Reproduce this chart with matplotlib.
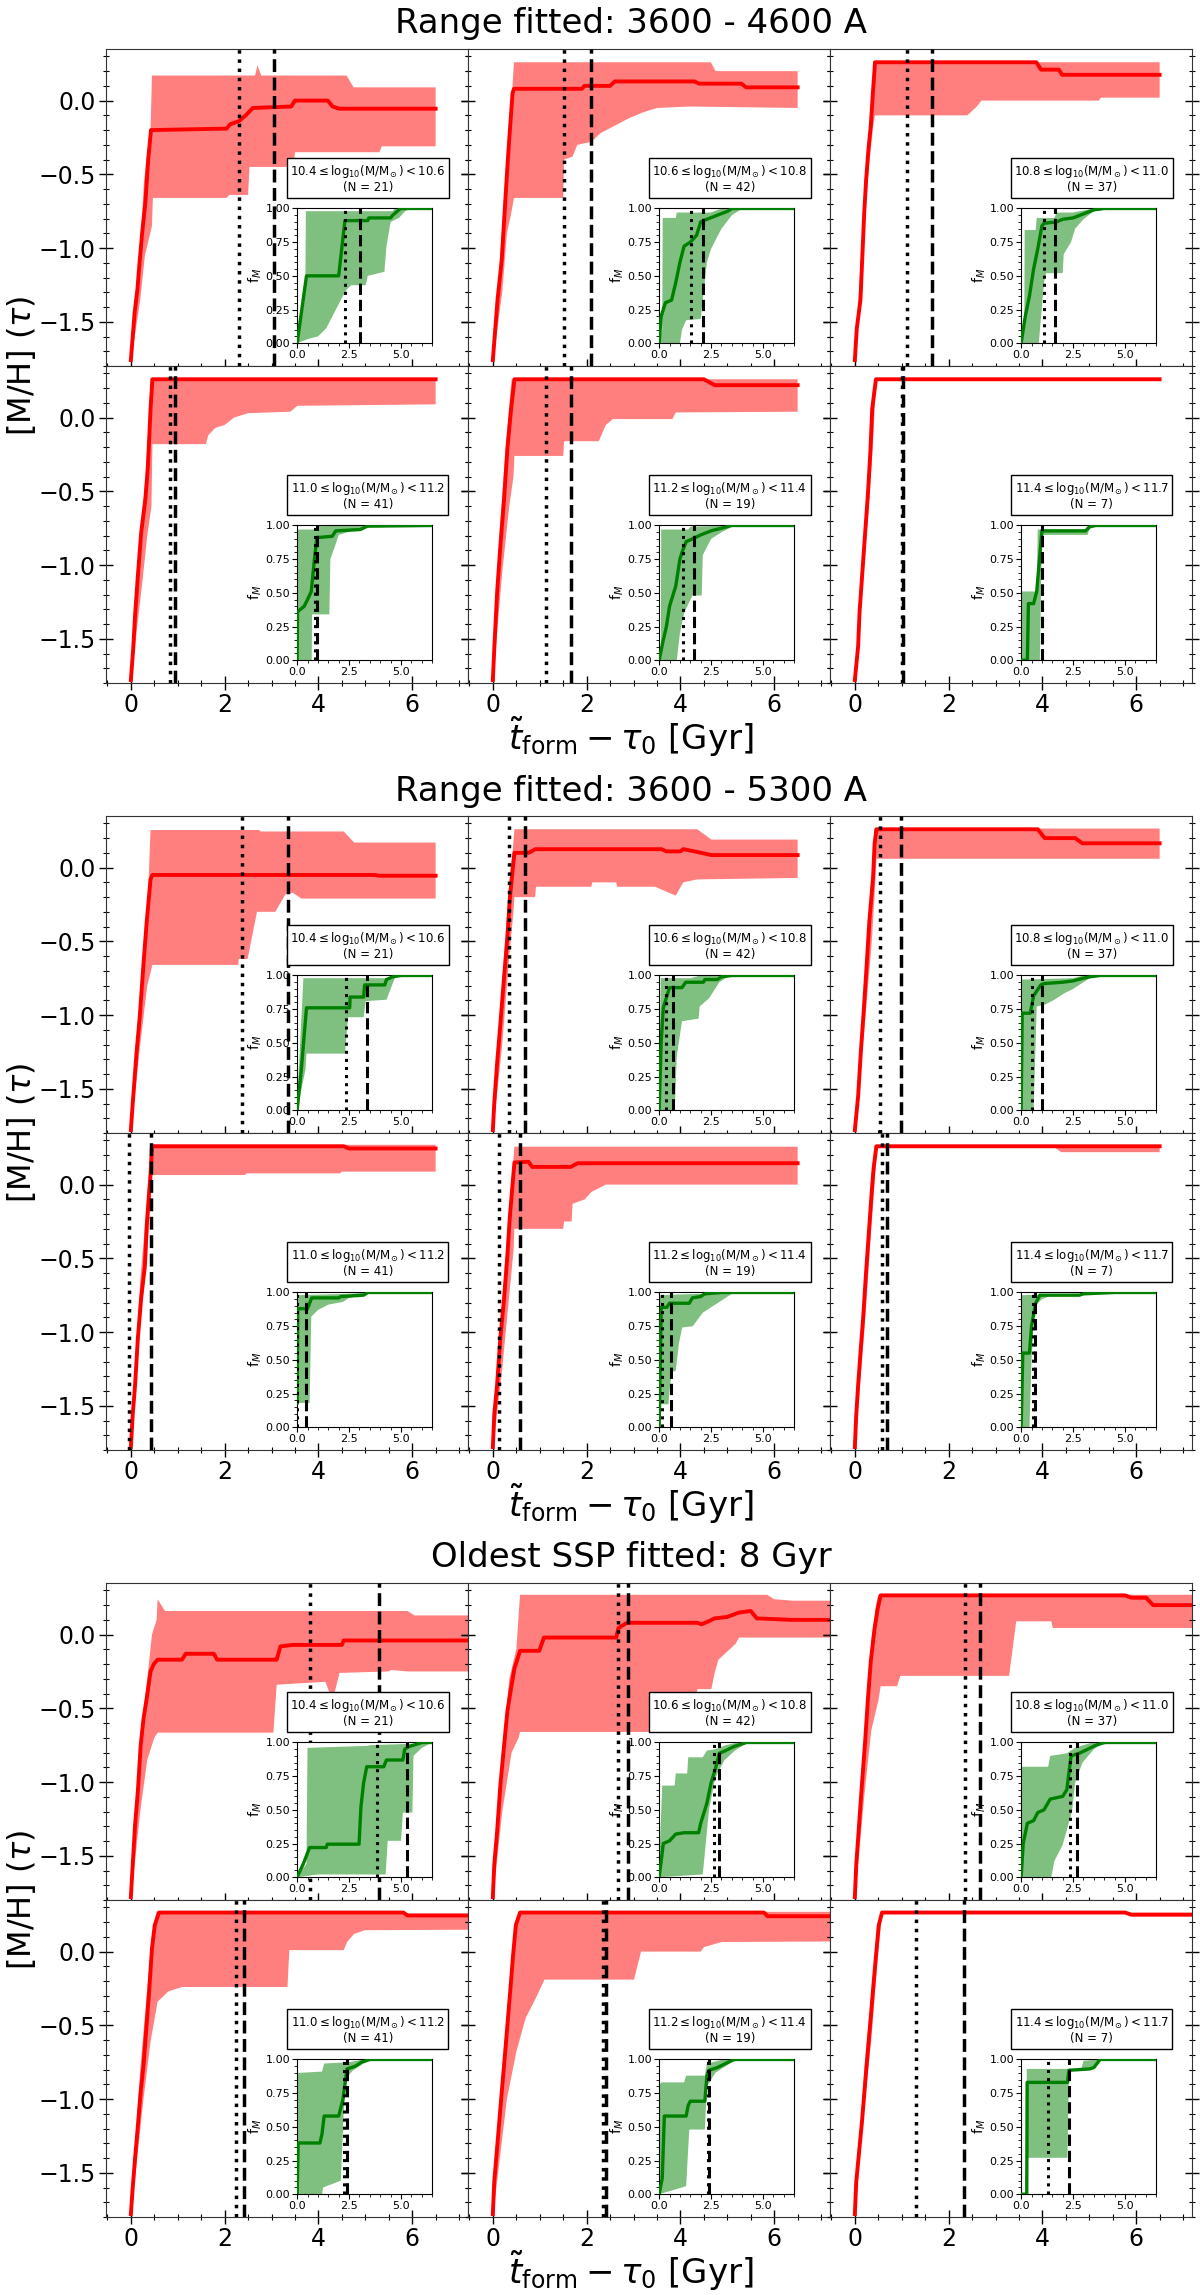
import matplotlib
matplotlib.use("Agg")
import matplotlib.pyplot as plt
from matplotlib.ticker import MultipleLocator

# ---------------------------------------------------------------------------
# data: (x, y) vertices, x = t_form - tau0 [Gyr]
# MED = median [M/H], HI/LO = band edges; F* = inset cumulative mass fraction
# V = (dotted, dashed) vertical markers
# ---------------------------------------------------------------------------
# --- Range fitted: 3600 - 4600 A
A1_MED = [(0, -1.76), (0.04, -1.6), (0.08, -1.44), (0.14, -1.28), (0.18, -1.12), (0.24, -0.9),
          (0.31, -0.69), (0.37, -0.4), (0.43, -0.2), (2.04, -0.19), (2.12, -0.16), (2.3, -0.14),
          (2.45, -0.1), (2.6, -0.05), (3.42, -0.04), (3.5, 0.0), (4.2, 0.0), (4.3, -0.04),
          (4.45, -0.055), (6.5, -0.055)]
A1_HI = [(0, -1.76), (0.2, -1.0), (0.28, -0.55), (0.35, -0.35), (0.42, -0.2), (0.45, 0.17),
         (2.65, 0.17), (2.7, 0.24), (2.78, 0.17), (4.6, 0.17), (4.75, 0.09), (6.5, 0.09)]
A1_LO = [(0, -1.78), (0.2, -1.35), (0.3, -1.05), (0.45, -0.85), (0.47, -0.66), (2.04, -0.66),
         (2.1, -0.64), (2.5, -0.64), (2.53, -0.45), (3.47, -0.45), (3.5, -0.35), (5.3, -0.35),
         (5.35, -0.31), (6.5, -0.31)]
A1_V = (2.30, 3.05)
A1_FMED = [(0, 0), (0.45, 0.5), (2.0, 0.5), (2.3, 0.91), (3.4, 0.91), (3.45, 0.93), (4.5, 0.93),
           (4.6, 0.95), (4.9, 0.99), (5.0, 1.0), (6.5, 1.0)]
A1_FHI = [(0, 0.03), (0.4, 0.5), (0.42, 0.98), (4.6, 0.98), (4.7, 1.0), (6.5, 1.0)]
A1_FLO = [(0, 0), (0.5, 0.03), (1.0, 0.05), (1.4, 0.11), (2.2, 0.35), (2.4, 0.4), (2.6, 0.43),
          (3.3, 0.43), (3.4, 0.5), (4.2, 0.53), (4.3, 0.72), (4.5, 0.9), (4.9, 0.93), (5.2, 0.98),
          (5.5, 1.0), (6.5, 1.0)]

A2_MED = [(0, -1.76), (0.1, -1.35), (0.19, -1.08), (0.25, -0.76), (0.31, -0.45), (0.35, -0.26),
          (0.42, 0.05), (0.45, 0.08), (1.9, 0.08), (1.95, 0.1), (2.5, 0.1), (2.6, 0.13), (4.3, 0.13),
          (4.4, 0.115), (5.3, 0.115), (5.4, 0.09), (6.5, 0.09)]
A2_HI = [(0, -1.76), (0.2, -0.85), (0.3, -0.35), (0.4, 0.0), (0.45, 0.26), (4.65, 0.26),
         (4.75, 0.2), (6.5, 0.2)]
A2_LO = [(0, -1.78), (0.2, -1.3), (0.3, -0.9), (0.4, -0.75), (0.45, -0.66), (1.5, -0.66),
         (1.52, -0.4), (1.7, -0.38), (1.8, -0.3), (2.1, -0.28), (2.3, -0.22), (2.6, -0.17),
         (2.9, -0.12), (3.2, -0.08), (3.5, -0.05), (4.2, -0.04), (6.5, -0.05)]
A2_V = (1.52, 2.09)
A2_FMED = [(0, 0), (0.1, 0.2), (0.3, 0.3), (0.6, 0.32), (0.8, 0.45), (1.0, 0.6), (1.2, 0.72),
           (1.5, 0.75), (1.8, 0.8), (2.0, 0.9), (2.3, 0.92), (2.8, 0.95), (3.3, 0.98), (3.5, 1.0),
           (6.5, 1.0)]
A2_FHI = [(0, 0), (0.15, 0.1), (0.17, 0.93), (0.8, 0.93), (0.85, 0.97), (2.5, 0.97), (3.0, 1.0),
          (6.5, 1.0)]
A2_FLO = [(0, 0), (1.0, 0), (1.1, 0.1), (1.3, 0.17), (2.0, 0.18), (2.3, 0.6), (2.5, 0.7),
          (3.0, 0.85), (3.5, 0.95), (4.0, 1.0), (6.5, 1.0)]

A3_MED = [(0, -1.76), (0.04, -1.55), (0.12, -1.35), (0.2, -0.76), (0.24, -0.54), (0.29, -0.33),
          (0.34, -0.17), (0.38, 0.03), (0.43, 0.26), (3.87, 0.26), (3.97, 0.21), (4.35, 0.21),
          (4.42, 0.175), (6.5, 0.175)]
A3_HI = [(0, -1.76), (0.2, -0.7), (0.3, -0.25), (0.38, 0.1), (0.43, 0.26), (6.5, 0.26)]
A3_LO = [(0, -1.78), (0.2, -0.85), (0.3, -0.45), (0.38, -0.2), (0.43, -0.1), (2.4, -0.1),
         (2.6, -0.04), (2.7, 0.0), (5.2, 0.0), (5.25, 0.02), (6.5, 0.02)]
A3_V = (1.12, 1.65)
A3_FMED = [(0, 0), (0.2, 0.2), (0.4, 0.35), (0.6, 0.55), (0.8, 0.7), (1.0, 0.87), (1.1, 0.89),
           (1.7, 0.9), (2.0, 0.92), (2.5, 0.93), (3.0, 0.96), (3.5, 0.99), (4.0, 1.0), (6.5, 1.0)]
A3_FHI = [(0, 0), (0.15, 0.1), (0.17, 0.84), (0.7, 0.84), (0.75, 0.93), (1.6, 0.93), (1.7, 0.97),
          (2.5, 0.97), (3.5, 1.0), (6.5, 1.0)]
A3_FLO = [(0, 0), (0.85, 0), (1.1, 0.45), (1.2, 0.52), (2.0, 0.52), (2.05, 0.66), (2.4, 0.75),
          (2.6, 0.85), (3.0, 0.92), (3.5, 0.98), (4.3, 1.0), (6.5, 1.0)]

A4_MED = [(0, -1.78), (0.05, -1.57), (0.09, -1.34), (0.15, -1.07), (0.22, -0.78), (0.31, -0.55),
          (0.36, -0.35), (0.39, -0.15), (0.42, 0.06), (0.46, 0.26), (6.5, 0.26)]
A4_HI = [(0, -1.78), (0.15, -1.0), (0.3, -0.45), (0.38, -0.05), (0.42, 0.26), (6.5, 0.26)]
A4_LO = [(0, -1.8), (0.25, -1.1), (0.35, -0.8), (0.44, -0.6), (0.46, -0.18), (1.6, -0.18),
         (1.65, -0.12), (1.8, -0.07), (2.0, -0.05), (2.2, 0.0), (2.5, 0.03), (3.4, 0.04),
         (3.55, 0.08), (6.5, 0.09)]
A4_V = (0.84, 0.94)
A4_FMED = [(0, 0), (0.02, 0.36), (0.34, 0.4), (0.5, 0.45), (0.68, 0.51), (0.84, 0.76), (0.95, 0.91),
           (1.69, 0.92), (1.86, 0.96), (3.04, 0.97), (3.38, 0.995), (6.5, 1.0)]
A4_FHI = [(0, 0.97), (0.9, 0.97), (0.95, 0.995), (3.4, 1.0), (6.5, 1.0)]
A4_FLO = [(0, 0), (0.7, 0), (0.72, 0.34), (1.55, 0.34), (1.6, 0.75), (1.85, 0.86), (2.0, 0.93),
          (3.4, 0.995), (6.5, 1.0)]

A5_MED = [(0, -1.78), (0.03, -1.57), (0.09, -1.19), (0.16, -0.87), (0.24, -0.55), (0.31, -0.21),
          (0.39, 0.06), (0.46, 0.26), (4.5, 0.26), (4.73, 0.22), (6.5, 0.22)]
A5_HI = [(0, -1.78), (0.15, -0.75), (0.3, -0.1), (0.4, 0.26), (6.5, 0.26)]
A5_LO = [(0, -1.8), (0.2, -1.05), (0.35, -0.6), (0.44, -0.4), (0.46, -0.26), (1.5, -0.26),
         (1.52, -0.16), (2.26, -0.16), (2.34, -0.1), (2.41, -0.05), (2.56, -0.01), (3.83, -0.01),
         (3.9, 0.035), (6.5, 0.04)]
A5_V = (1.14, 1.66)
A5_FMED = [(0, 0), (0.2, 0.15), (0.35, 0.25), (0.5, 0.4), (0.8, 0.55), (1.0, 0.75), (1.1, 0.8),
           (1.3, 0.88), (1.6, 0.9), (2.0, 0.93), (2.5, 0.96), (3.0, 0.98), (3.5, 1.0), (6.5, 1.0)]
A5_FHI = [(0, 0), (0.08, 0.1), (0.1, 0.97), (1.4, 0.97), (1.5, 0.99), (3.3, 1.0), (6.5, 1.0)]
A5_FLO = [(0, 0), (0.85, 0), (1.0, 0.2), (1.2, 0.35), (1.6, 0.48), (2.05, 0.48), (2.1, 0.78),
          (2.5, 0.9), (3.0, 0.95), (3.5, 0.99), (4.0, 1.0), (6.5, 1.0)]

A6_MED = [(0, -1.78), (0.07, -1.55), (0.1, -1.32), (0.16, -1.05), (0.22, -0.78), (0.28, -0.51),
          (0.33, -0.24), (0.37, 0.06), (0.45, 0.26), (6.5, 0.26)]
A6_HI = [(0, -1.78), (0.15, -1.0), (0.3, -0.3), (0.37, 0.15), (0.42, 0.26), (6.5, 0.26)]
A6_LO = [(0, -1.8), (0.2, -1.0), (0.3, -0.6), (0.4, -0.1), (0.45, 0.25), (6.5, 0.25)]
A6_V = (1.01, 1.02)
A6_FMED = [(0, 0), (0.3, 0), (0.35, 0.42), (0.6, 0.42), (0.75, 0.51), (1.0, 0.96), (3.1, 0.96),
           (3.3, 0.99), (3.6, 1.0), (6.5, 1.0)]
A6_FHI = [(0, 0.51), (0.75, 0.51), (0.8, 0.97), (3.1, 0.97), (3.2, 1.0), (6.5, 1.0)]
A6_FLO = [(0, 0), (0.9, 0), (1.0, 0.93), (3.2, 0.93), (3.3, 0.98), (3.6, 1.0), (6.5, 1.0)]

# --- Range fitted: 3600 - 5300 A
B1_MED = [(0, -1.78), (0.04, -1.6), (0.12, -1.26), (0.19, -1.01), (0.27, -0.65), (0.34, -0.36),
          (0.42, -0.08), (0.46, -0.05), (5.2, -0.05), (5.3, -0.055), (6.5, -0.055)]
B1_HI = [(0, -1.78), (0.2, -0.9), (0.3, -0.5), (0.38, -0.1), (0.4, 0.1), (0.42, 0.255),
         (2.74, 0.255), (2.76, 0.245), (4.54, 0.245), (4.76, 0.17), (6.5, 0.17)]
B1_LO = [(0, -1.8), (0.2, -1.2), (0.35, -0.8), (0.46, -0.66), (2.29, -0.66), (2.3, -0.62),
         (2.49, -0.62), (2.69, -0.3), (3.08, -0.3), (3.3, -0.18), (3.45, -0.17), (3.64, -0.21),
         (6.5, -0.21)]
B1_V = (2.36, 3.35)
B1_FMED = [(0, 0), (0.2, 0.3), (0.45, 0.76), (2.53, 0.76), (2.55, 0.84), (3.2, 0.84), (3.25, 0.93),
           (4.22, 0.93), (4.3, 0.97), (4.6, 0.99), (5.0, 1.0), (6.5, 1.0)]
B1_FHI = [(0, 0.05), (0.3, 0.98), (4.5, 0.98), (4.7, 1.0), (6.5, 1.0)]
B1_FLO = [(0, 0), (0.4, 0.3), (0.45, 0.42), (2.3, 0.42), (2.45, 0.69), (3.2, 0.69), (3.3, 0.81),
          (4.3, 0.82), (4.7, 0.98), (5.0, 1.0), (6.5, 1.0)]

B2_MED = [(0, -1.78), (0.03, -1.6), (0.09, -1.33), (0.16, -1.06), (0.24, -0.74), (0.31, -0.47),
          (0.36, -0.22), (0.42, -0.02), (0.46, 0.1), (0.76, 0.1), (0.91, 0.125), (3.6, 0.125),
          (3.7, 0.11), (4.0, 0.11), (4.06, 0.125), (4.3, 0.11), (4.66, 0.085), (6.5, 0.085)]
B2_HI = [(0, -1.78), (0.2, -0.8), (0.35, -0.1), (0.42, 0.1), (0.46, 0.26), (4.36, 0.26),
         (4.66, 0.19), (6.5, 0.19)]
B2_LO = [(0, -1.8), (0.2, -1.2), (0.35, -0.6), (0.44, -0.3), (0.46, -0.2), (0.9, -0.2),
         (0.92, -0.13), (2.1, -0.13), (2.12, -0.1), (2.63, -0.1), (2.65, -0.13), (3.46, -0.13),
         (3.9, -0.19), (4.06, -0.1), (4.36, -0.08), (6.5, -0.07)]
B2_V = (0.35, 0.68)
B2_FMED = [(0, 0), (0.1, 0.51), (0.2, 0.76), (0.3, 0.81), (0.5, 0.91), (1.1, 0.91), (1.28, 0.95),
           (2.13, 0.95), (2.2, 0.97), (2.8, 0.97), (3.0, 0.99), (3.5, 1.0), (6.5, 1.0)]
B2_FHI = [(0, 0.1), (0.08, 0.98), (1.5, 0.98), (2.0, 1.0), (6.5, 1.0)]
B2_FLO = [(0, 0), (0.75, 0), (0.85, 0.4), (1.1, 0.66), (1.9, 0.68), (1.95, 0.77), (2.4, 0.83),
          (2.9, 0.95), (3.3, 0.99), (3.8, 1.0), (6.5, 1.0)]

B3_MED = [(0, -1.78), (0.07, -1.55), (0.13, -1.24), (0.19, -0.97), (0.25, -0.67), (0.31, -0.36),
          (0.39, -0.06), (0.42, 0.16), (0.46, 0.26), (3.9, 0.26), (4.05, 0.2), (4.7, 0.2),
          (4.85, 0.165), (6.5, 0.165)]
B3_HI = [(0, -1.78), (0.2, -0.8), (0.35, -0.1), (0.42, 0.265), (6.5, 0.265)]
B3_LO = [(0, -1.8), (0.2, -1.1), (0.35, -0.55), (0.42, -0.2), (0.46, 0.06), (6.5, 0.06)]
B3_V = (0.54, 0.99)
B3_FMED = [(0, 0), (0.05, 0.72), (0.44, 0.72), (0.6, 0.85), (0.95, 0.93), (1.1, 0.94), (2.0, 0.95),
           (2.5, 0.96), (3.0, 0.98), (3.3, 0.99), (3.8, 1.0), (6.5, 1.0)]
B3_FHI = [(0, 0.1), (0.04, 0.97), (2.5, 0.98), (3.0, 1.0), (6.5, 1.0)]
B3_FLO = [(0, 0), (0.6, 0), (0.75, 0.77), (1.1, 0.78), (1.6, 0.82), (2.1, 0.87), (2.5, 0.9),
          (2.8, 0.93), (3.3, 0.98), (4.0, 1.0), (6.5, 1.0)]

B4_MED = [(0, -1.78), (0.04, -1.56), (0.09, -1.36), (0.15, -1.04), (0.22, -0.77), (0.3, -0.55),
          (0.34, -0.27), (0.39, -0.05), (0.42, 0.065), (0.45, 0.26), (4.54, 0.26), (4.65, 0.245),
          (6.5, 0.245)]
B4_HI = [(0, -1.78), (0.2, -0.65), (0.35, -0.1), (0.42, 0.27), (6.5, 0.27)]
B4_LO = [(0, -1.8), (0.2, -0.95), (0.35, -0.45), (0.42, -0.1), (0.45, 0.065), (2.44, 0.065),
         (2.46, 0.076), (4.46, 0.076), (4.5, 0.088), (6.5, 0.088)]
B4_V = (-0.03, 0.42)
B4_FMED = [(0, 0.18), (0.03, 0.88), (0.5, 0.88), (0.7, 0.96), (2.0, 0.96), (2.1, 0.97), (3.2, 0.98),
           (3.4, 1.0), (6.5, 1.0)]
B4_FHI = [(0, 0.98), (2.5, 0.99), (3.5, 1.0), (6.5, 1.0)]
B4_FLO = [(0, 0.18), (0.6, 0.18), (0.68, 0.82), (1.0, 0.87), (1.5, 0.91), (2.2, 0.93), (2.5, 0.96),
          (3.2, 0.98), (3.4, 1.0), (6.5, 1.0)]

B5_MED = [(0, -1.78), (0.03, -1.56), (0.09, -1.36), (0.16, -1.04), (0.24, -0.77), (0.31, -0.48),
          (0.36, -0.23), (0.42, 0.0), (0.46, 0.15), (0.76, 0.155), (0.84, 0.12), (1.66, 0.12),
          (1.81, 0.145), (6.5, 0.145)]
B5_HI = [(0, -1.78), (0.2, -0.8), (0.35, -0.15), (0.42, 0.1), (0.46, 0.257), (6.5, 0.257)]
B5_LO = [(0, -1.8), (0.2, -1.25), (0.35, -0.75), (0.44, -0.45), (0.46, -0.3), (1.5, -0.3),
         (1.52, -0.25), (1.68, -0.25), (1.7, -0.13), (1.96, -0.1), (2.1, -0.05), (2.41, 0.0),
         (6.5, 0.0)]
B5_V = (0.14, 0.57)
B5_FMED = [(0, 0), (0.1, 0.89), (0.37, 0.89), (0.5, 0.92), (1.45, 0.92), (1.6, 0.96), (2.0, 0.97),
           (2.2, 0.99), (3.0, 1.0), (6.5, 1.0)]
B5_FHI = [(0, 0.98), (2.0, 0.99), (2.5, 1.0), (6.5, 1.0)]
B5_FLO = [(0, 0.17), (0.45, 0.17), (0.5, 0.27), (0.6, 0.41), (0.8, 0.42), (0.95, 0.62), (1.11, 0.74),
          (1.62, 0.75), (2.1, 0.85), (2.6, 0.9), (3.5, 0.99), (6.5, 1.0)]

B6_MED = [(0, -1.78), (0.03, -1.56), (0.07, -1.36), (0.12, -1.14), (0.18, -0.89), (0.24, -0.59),
          (0.3, -0.32), (0.36, -0.05), (0.4, 0.11), (0.46, 0.26), (6.5, 0.26)]
B6_HI = [(0, -1.78), (0.2, -0.7), (0.35, 0.05), (0.42, 0.265), (6.5, 0.265)]
B6_LO = [(0, -1.8), (0.2, -1.0), (0.35, -0.3), (0.44, 0.1), (0.46, 0.25), (4.27, 0.25), (4.4, 0.22),
         (6.5, 0.22)]
B6_V = (0.57, 0.68)
B6_FMED = [(0, 0), (0.08, 0.55), (0.4, 0.55), (0.5, 0.75), (0.7, 0.92), (0.9, 0.98), (2.8, 0.98),
           (3.0, 0.99), (4.5, 1.0), (6.5, 1.0)]
B6_FHI = [(0, 0.98), (6.5, 1.0)]
B6_FLO = [(0, 0), (0.4, 0), (0.5, 0.5), (0.65, 0.9), (1.0, 0.95), (1.5, 0.98), (3.0, 0.99), (6.5, 1.0)]

# --- Oldest SSP fitted: 8 Gyr
C1_MED = [(0, -1.78), (0.04, -1.56), (0.09, -1.29), (0.15, -1.06), (0.21, -0.75), (0.27, -0.57),
          (0.34, -0.43), (0.42, -0.25), (0.49, -0.2), (0.57, -0.17), (1.09, -0.17), (1.17, -0.13),
          (1.77, -0.13), (1.84, -0.17), (3.11, -0.17), (3.19, -0.08), (3.45, -0.07), (4.5, -0.07),
          (4.54, -0.04), (8.0, -0.04)]
C1_HI = [(0, -1.78), (0.2, -0.7), (0.35, -0.3), (0.45, 0.0), (0.55, 0.1), (0.57, 0.24), (0.73, 0.16),
         (5.9, 0.16), (6.05, 0.13), (8.0, 0.13)]
C1_LO = [(0, -1.8), (0.2, -1.2), (0.35, -0.85), (0.5, -0.7), (0.57, -0.665), (3.04, -0.665),
         (3.11, -0.34), (4.15, -0.32), (4.3, -0.45), (4.45, -0.26), (5.5, -0.25), (5.55, -0.24),
         (5.9, -0.25), (8.0, -0.25)]
C1_V = (3.83, 5.3)
C1_FMED = [(0, 0), (0.3, 0.1), (0.6, 0.22), (1.4, 0.22), (1.45, 0.245), (2.98, 0.245), (3.07, 0.52),
           (3.2, 0.7), (3.35, 0.82), (4.17, 0.82), (4.3, 0.87), (5.09, 0.87), (5.18, 0.95),
           (5.4, 0.97), (5.8, 0.99), (6.0, 1.0), (6.5, 1.0)]
C1_FHI = [(0, 0.0), (0.45, 0.1), (0.5, 0.96), (3.4, 0.975), (3.5, 0.98), (5.5, 0.99), (6.0, 1.0),
          (6.5, 1.0)]
C1_FLO = [(0, 0), (1.0, 0.02), (4.26, 0.02), (4.36, 0.27), (5.0, 0.27), (5.09, 0.48), (5.55, 0.48),
          (5.6, 0.9), (6.0, 0.96), (6.5, 1.0)]

C2_MED = [(0, -1.78), (0.03, -1.56), (0.09, -1.34), (0.16, -1.02), (0.24, -0.75), (0.31, -0.52),
          (0.39, -0.36), (0.46, -0.23), (0.58, -0.11), (0.99, -0.11), (1.09, -0.02), (2.63, -0.02),
          (2.68, 0.045), (2.86, 0.08), (4.36, 0.08), (4.45, 0.07), (4.6, 0.09), (4.73, 0.11),
          (5.0, 0.12), (5.25, 0.15), (5.5, 0.16), (5.63, 0.11), (6.38, 0.1), (8.0, 0.1)]
C2_HI = [(0, -1.78), (0.2, -0.8), (0.35, -0.3), (0.5, -0.1), (0.58, 0.27), (5.85, 0.27), (6.0, 0.24),
         (6.4, 0.23), (8.0, 0.23)]
C2_LO = [(0, -1.8), (0.2, -1.2), (0.4, -0.8), (0.55, -0.7), (0.58, -0.66), (4.28, -0.66),
         (4.36, -0.37), (4.66, -0.37), (4.73, -0.26), (4.81, -0.17), (5.05, -0.1), (5.18, -0.06),
         (5.25, -0.02), (8.0, -0.02)]
C2_V = (2.66, 2.89)
C2_FMED = [(0, 0), (0.1, 0.12), (0.2, 0.25), (0.5, 0.27), (0.8, 0.32), (1.2, 0.33), (1.9, 0.33),
           (2.0, 0.4), (2.3, 0.55), (2.5, 0.7), (2.7, 0.8), (2.9, 0.92), (3.2, 0.94), (3.6, 0.97),
           (4.2, 1.0), (6.5, 1.0)]
C2_FHI = [(0, 0.1), (0.15, 0.68), (0.75, 0.68), (0.8, 0.77), (1.35, 0.77), (1.4, 0.89), (2.1, 0.89),
          (2.3, 0.94), (2.7, 0.95), (3.2, 0.98), (3.8, 1.0), (6.5, 1.0)]
C2_FLO = [(0, 0), (2.1, 0.02), (2.4, 0.5), (2.65, 0.7), (2.8, 0.77), (3.15, 0.87), (3.65, 0.94),
          (4.15, 0.99), (6.5, 1.0)]

C3_MED = [(0, -1.78), (0.03, -1.56), (0.09, -1.29), (0.15, -1.02), (0.22, -0.72), (0.28, -0.43),
          (0.34, -0.18), (0.42, 0.04), (0.49, 0.18), (0.55, 0.266), (5.76, 0.266), (5.9, 0.25),
          (6.21, 0.25), (6.36, 0.2), (8.0, 0.2)]
C3_HI = [(0, -1.78), (0.2, -0.7), (0.35, -0.05), (0.45, 0.2), (0.5, 0.27), (8.0, 0.27)]
C3_LO = [(0, -1.8), (0.2, -1.1), (0.35, -0.65), (0.5, -0.45), (0.55, -0.35), (0.9, -0.35),
         (0.97, -0.28), (3.29, -0.28), (3.44, 0.09), (4.19, 0.09), (4.22, 0.045), (8.0, 0.045)]
C3_V = (2.35, 2.67)
C3_FMED = [(0, 0), (0.1, 0.25), (0.3, 0.4), (0.6, 0.42), (0.8, 0.48), (1.1, 0.5), (1.4, 0.58),
           (2.0, 0.6), (2.2, 0.65), (2.4, 0.9), (2.8, 0.92), (3.2, 0.95), (3.6, 0.98), (4.0, 1.0),
           (6.5, 1.0)]
C3_FHI = [(0, 0.82), (1.3, 0.82), (1.4, 0.9), (2.2, 0.92), (2.6, 0.96), (3.2, 0.99), (3.5, 1.0),
          (6.5, 1.0)]
C3_FLO = [(0, 0), (1.45, 0), (1.6, 0.12), (2.0, 0.24), (2.45, 0.49), (2.6, 0.7), (2.95, 0.85),
          (3.5, 0.95), (3.8, 0.98), (4.5, 1.0), (6.5, 1.0)]

C4_MED = [(0, -1.78), (0.04, -1.6), (0.09, -1.4), (0.15, -1.18), (0.21, -0.95), (0.27, -0.77),
          (0.33, -0.52), (0.39, -0.27), (0.45, 0.02), (0.51, 0.18), (0.6, 0.265), (5.81, 0.265),
          (5.9, 0.245), (8.0, 0.245)]
C4_HI = [(0, -1.78), (0.2, -0.8), (0.35, -0.25), (0.45, 0.1), (0.55, 0.27), (5.81, 0.27),
         (5.9, 0.257), (8.0, 0.257)]
C4_LO = [(0, -1.8), (0.27, -1.0), (0.42, -0.61), (0.57, -0.34), (0.8, -0.27), (1.09, -0.24),
         (3.34, -0.24), (3.38, 0.01), (4.54, 0.01), (4.61, 0.065), (4.76, 0.12), (4.99, 0.145),
         (8.0, 0.15)]
C4_V = (2.25, 2.41)
C4_FMED = [(0, 0), (0.05, 0.38), (1.1, 0.38), (1.2, 0.45), (1.3, 0.58), (2.0, 0.58), (2.1, 0.64),
           (2.2, 0.7), (2.4, 0.93), (2.8, 0.95), (3.1, 0.98), (3.5, 1.0), (6.5, 1.0)]
C4_FHI = [(0, 0.9), (1.2, 0.91), (1.3, 0.97), (2.5, 0.98), (3.2, 1.0), (6.5, 1.0)]
C4_FLO = [(0, 0), (1.2, 0.0), (1.25, 0.05), (2.1, 0.1), (2.25, 0.64), (2.4, 0.87), (2.7, 0.92),
          (3.2, 0.97), (3.6, 1.0), (6.5, 1.0)]

C5_MED = [(0, -1.78), (0.03, -1.56), (0.13, -1.18), (0.19, -0.95), (0.25, -0.73), (0.31, -0.5),
          (0.37, -0.27), (0.43, -0.03), (0.49, 0.18), (0.58, 0.265), (5.78, 0.265), (5.86, 0.24),
          (8.0, 0.24)]
C5_HI = [(0, -1.78), (0.2, -0.8), (0.35, -0.25), (0.45, 0.1), (0.55, 0.27), (8.0, 0.27)]
C5_LO = [(0, -1.8), (0.3, -1.0), (0.5, -0.68), (0.7, -0.45), (0.91, -0.32), (1.1, -0.19),
         (3.01, -0.19), (3.16, 0.0), (4.43, 0.0), (4.5, 0.03), (4.88, 0.065), (8.0, 0.07)]
C5_V = (2.34, 2.42)
C5_FMED = [(0, 0), (0.15, 0.12), (0.25, 0.58), (1.3, 0.58), (1.4, 0.66), (1.5, 0.69), (2.2, 0.69),
           (2.3, 0.88), (2.4, 0.92), (2.8, 0.94), (3.2, 0.97), (3.6, 1.0), (6.5, 1.0)]
C5_FHI = [(0, 0.8), (0.1, 0.83), (1.2, 0.83), (1.3, 0.88), (2.2, 0.88), (2.3, 0.97), (3.1, 1.0),
          (6.5, 1.0)]
C5_FLO = [(0, 0), (1.1, 0.05), (1.3, 0.06), (1.45, 0.48), (2.2, 0.48), (2.3, 0.8), (2.7, 0.9),
          (3.5, 0.98), (4.0, 1.0), (6.5, 1.0)]

C6_MED = [(0, -1.78), (0.03, -1.56), (0.09, -1.36), (0.15, -1.16), (0.21, -0.93), (0.27, -0.7),
          (0.33, -0.48), (0.39, -0.25), (0.45, -0.03), (0.51, 0.18), (0.58, 0.265), (5.76, 0.265),
          (5.9, 0.25), (8.0, 0.25)]
C6_HI = [(0, -1.78), (0.2, -0.8), (0.35, -0.3), (0.45, 0.05), (0.55, 0.265), (8.0, 0.265)]
C6_LO = [(0, -1.8), (0.2, -1.05), (0.35, -0.6), (0.5, 0.0), (0.58, 0.26), (5.76, 0.26), (5.9, 0.245),
         (8.0, 0.245)]
C6_V = (1.3, 2.32)
C6_FMED = [(0, 0), (0.27, 0.0), (0.29, 0.83), (2.23, 0.83), (2.3, 0.92), (3.3, 0.93), (3.5, 0.94),
           (3.8, 1.0), (6.5, 1.0)]
C6_FHI = [(0.27, 0.93), (2.9, 0.93), (3.0, 0.99), (3.8, 1.0), (6.5, 1.0)]
C6_FLO = [(0.27, 0.27), (2.23, 0.27), (2.3, 0.92), (3.3, 0.93), (3.8, 1.0), (6.5, 1.0)]

GROUP_TITLES = ["Range fitted: 3600 - 4600 A",
                "Range fitted: 3600 - 5300 A",
                "Oldest SSP fitted: 8 Gyr"]
MASS_LO = [10.4, 10.6, 10.8, 11.0, 11.2, 11.4]
MASS_HI = [10.6, 10.8, 11.0, 11.2, 11.4, 11.7]
N_GAL = [21, 42, 37, 41, 19, 7]

PANELS = [
    [(A1_MED, A1_HI, A1_LO, A1_FMED, A1_FHI, A1_FLO, A1_V),
     (A2_MED, A2_HI, A2_LO, A2_FMED, A2_FHI, A2_FLO, A2_V),
     (A3_MED, A3_HI, A3_LO, A3_FMED, A3_FHI, A3_FLO, A3_V),
     (A4_MED, A4_HI, A4_LO, A4_FMED, A4_FHI, A4_FLO, A4_V),
     (A5_MED, A5_HI, A5_LO, A5_FMED, A5_FHI, A5_FLO, A5_V),
     (A6_MED, A6_HI, A6_LO, A6_FMED, A6_FHI, A6_FLO, A6_V)],
    [(B1_MED, B1_HI, B1_LO, B1_FMED, B1_FHI, B1_FLO, B1_V),
     (B2_MED, B2_HI, B2_LO, B2_FMED, B2_FHI, B2_FLO, B2_V),
     (B3_MED, B3_HI, B3_LO, B3_FMED, B3_FHI, B3_FLO, B3_V),
     (B4_MED, B4_HI, B4_LO, B4_FMED, B4_FHI, B4_FLO, B4_V),
     (B5_MED, B5_HI, B5_LO, B5_FMED, B5_FHI, B5_FLO, B5_V),
     (B6_MED, B6_HI, B6_LO, B6_FMED, B6_FHI, B6_FLO, B6_V)],
    [(C1_MED, C1_HI, C1_LO, C1_FMED, C1_FHI, C1_FLO, C1_V),
     (C2_MED, C2_HI, C2_LO, C2_FMED, C2_FHI, C2_FLO, C2_V),
     (C3_MED, C3_HI, C3_LO, C3_FMED, C3_FHI, C3_FLO, C3_V),
     (C4_MED, C4_HI, C4_LO, C4_FMED, C4_FHI, C4_FLO, C4_V),
     (C5_MED, C5_HI, C5_LO, C5_FMED, C5_FHI, C5_FLO, C5_V),
     (C6_MED, C6_HI, C6_LO, C6_FMED, C6_FHI, C6_FLO, C6_V)],
]

# layout in pixels of the 1200 x 2295 canvas
W, H = 1200, 2295
GROUP_TOP = [49, 816, 1583]
COL_LEFT = [106, 468, 830]
PW, PH = 362, 317
X_MID = 631


def xs(pts):
    return [p[0] for p in pts]


def ys(pts):
    return [p[1] for p in pts]


def band(ax, hi, lo, color):
    ax.fill(xs(hi) + xs(lo)[::-1], ys(hi) + ys(lo)[::-1], color=color, alpha=0.5, lw=0)


def add_axes_px(fig, left, top, w, h):
    return fig.add_axes([left / W, 1 - (top + h) / H, w / W, h / H])


def draw_panel(ax, data, k, row, col):
    med, hi, lo, fmed, fhi, flo, vl = data
    band(ax, hi, lo, "red")
    ax.plot(xs(med), ys(med), color="red", lw=2.8, zorder=3)
    ax.axvline(vl[0], color="k", ls=":", lw=2.5, zorder=4)
    ax.axvline(vl[1], color="k", ls="--", lw=2.5, zorder=4)
    ax.set_xlim(-0.53, 7.19)
    ax.set_ylim(-1.80, 0.35)
    ax.xaxis.set_major_locator(MultipleLocator(2))
    ax.xaxis.set_minor_locator(MultipleLocator(0.5))
    ax.yaxis.set_major_locator(MultipleLocator(0.5))
    ax.yaxis.set_minor_locator(MultipleLocator(0.1))
    ax.tick_params(which="both", direction="inout", left=True, right=True,
                   top=False, bottom=True, labelsize=17, pad=2.5)
    ax.tick_params(which="major", length=9.5, width=1.0)
    ax.tick_params(which="minor", length=5, width=0.8)
    if col != 0:
        ax.tick_params(labelleft=False)
    if row == 0:
        ax.tick_params(labelbottom=False)
    for sp in ax.spines.values():
        sp.set_color("0.2")

    txt = (f"{MASS_LO[k]:.1f}$\\leq$log$_{{10}}$(M/M$_\\odot$)$<${MASS_HI[k]:.1f}\n"
           f"(N = {N_GAL[k]})")
    ax.text(0.723, 0.591, txt, transform=ax.transAxes, ha="center", va="center",
            fontsize=8.5, zorder=6, linespacing=1.1,
            bbox=dict(boxstyle="square,pad=0.3", fc="white", ec="black", lw=1.0))

    ins = ax.inset_axes([0.528, 0.072, 0.373, 0.427])
    band(ins, fhi, flo, "green")
    ins.plot(xs(fmed), ys(fmed), color="green", lw=2.4, zorder=3)
    ins.axvline(vl[0], color="k", ls=":", lw=2.2, zorder=4)
    ins.axvline(vl[1], color="k", ls="--", lw=2.2, zorder=4)
    ins.set_xlim(0, 6.5)
    ins.set_ylim(0, 1.005)
    ins.set_xticks([0, 2.5, 5.0])
    ins.set_yticks([0, 0.25, 0.5, 0.75, 1.0])
    ins.minorticks_on()
    ins.tick_params(which="major", labelsize=8, length=3.5, width=0.8, pad=1.5)
    ins.tick_params(which="minor", length=2, width=0.6)
    ins.set_ylabel(r"f$_M$", fontsize=10, labelpad=1)


fig = plt.figure(figsize=(W / 100, H / 100), dpi=100)

for g in range(3):
    top = GROUP_TOP[g]
    for k in range(6):
        row, col = divmod(k, 3)
        ax = add_axes_px(fig, COL_LEFT[col], top + row * PH, PW, PH)
        draw_panel(ax, PANELS[g][k], k, row, col)
    fig.text(X_MID / W, 1 - (top - 25) / H, GROUP_TITLES[g], ha="center", va="center",
             fontsize=24.5)
    fig.text(X_MID / W, 1 - (top + 2 * PH + 54) / H, r"$\tilde{t}_{\rm form} - \tau_0$ [Gyr]",
             ha="center", va="center", fontsize=24.5)
    fig.text(22 / W, 1 - (top + PH) / H, r"[M/H] $(\tau)$", ha="center", va="center",
             rotation=90, fontsize=23)

fig.savefig("out.png", dpi=100, facecolor="white")
